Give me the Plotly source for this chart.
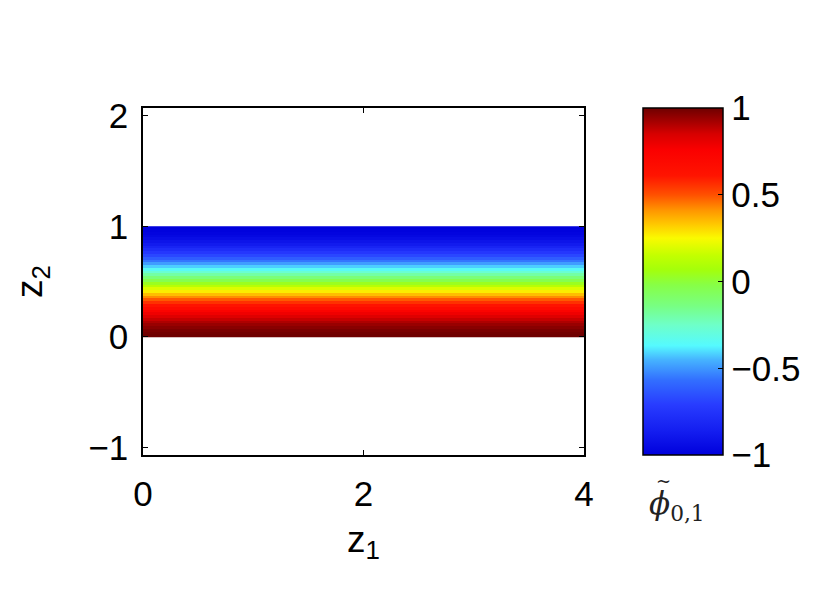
import plotly.graph_objects as go

# z1 extent (edges) and z2 band centres
z1_edges = [0, 4]
z2_centres = [0.0125, 0.0375, 0.0625, 0.0875, 0.1125, 0.1375, 0.1625, 0.1875, 0.2125, 0.2375,
              0.2625, 0.2875, 0.3125, 0.3375, 0.3625, 0.3875, 0.4125, 0.4375, 0.4625, 0.4875,
              0.5125, 0.5375, 0.5625, 0.5875, 0.6125, 0.6375, 0.6625, 0.6875, 0.7125, 0.7375,
              0.7625, 0.7875, 0.8125, 0.8375, 0.8625, 0.8875, 0.9125, 0.9375, 0.9625, 0.9875]
phi_values = [0.999, 0.993, 0.981, 0.962, 0.938, 0.908, 0.873, 0.831, 0.785, 0.734,
              0.679, 0.619, 0.556, 0.489, 0.419, 0.346, 0.271, 0.195, 0.118, 0.039,
              -0.039, -0.118, -0.195, -0.271, -0.346, -0.419, -0.489, -0.556, -0.619, -0.679,
              -0.734, -0.785, -0.831, -0.873, -0.908, -0.938, -0.962, -0.981, -0.993, -0.999]
x_ticks = [0, 2, 4]
y_ticks = [-1, 0, 1, 2]
y_ticktext = ["\u22121", "0", "1", "2"]
cb_ticks = [-1, -0.5, 0, 0.5, 1]
cb_ticktext = ["\u22121", "\u22120.5", "0", "0.5", "1"]

colorscale = [
    [0.0, 'rgb(0,0,220)'],
    [0.07, 'rgb(20,30,240)'],
    [0.145, 'rgb(40,60,255)'],
    [0.215, 'rgb(50,110,255)'],
    [0.275, 'rgb(70,180,255)'],
    [0.315, 'rgb(85,250,255)'],
    [0.375, 'rgb(110,255,200)'],
    [0.43, 'rgb(120,255,130)'],
    [0.49, 'rgb(135,255,70)'],
    [0.535, 'rgb(165,255,10)'],
    [0.575, 'rgb(195,255,0)'],
    [0.625, 'rgb(250,250,0)'],
    [0.665, 'rgb(255,200,0)'],
    [0.705, 'rgb(255,150,0)'],
    [0.75, 'rgb(255,80,0)'],
    [0.805, 'rgb(255,20,0)'],
    [0.88, 'rgb(250,0,0)'],
    [0.925, 'rgb(215,0,0)'],
    [1.0, 'rgb(110,0,0)'],
]

FONT = "Liberation Sans, Arial, Helvetica, sans-serif"
SERIF = "DejaVu Serif, serif"
TICK_SIZE = 35
TITLE_SIZE = 37

# plot area: 441 x 347 px
PW, PH = 441, 347
L, T = 135, 100

fig = go.Figure()
fig.add_trace(go.Heatmap(
    x=z1_edges,
    y=z2_centres,
    z=[[v] for v in phi_values],
    zmin=-1, zmax=1,
    colorscale=colorscale,
    colorbar=dict(
        x=500 / PW, xanchor='left', xpad=0,
        y=1, yanchor='top', ypad=0,
        len=PH, lenmode='pixels',
        thickness=80, thicknessmode='pixels',
        outlinewidth=1.5, outlinecolor='black',
        tickvals=cb_ticks, ticktext=cb_ticktext,
        ticks='inside', ticklen=5, tickcolor='black', tickwidth=1.2,
        tickfont=dict(family=FONT, size=TICK_SIZE, color='black'),
        ticklabelposition='outside',
    ),
    hoverinfo='skip',
))

fig.update_layout(
    width=830, height=590,
    margin=dict(l=L, r=830 - L - PW, t=T, b=590 - T - PH),
    paper_bgcolor='white', plot_bgcolor='white',
    font=dict(family=FONT, size=TICK_SIZE, color='black'),
    xaxis=dict(
        range=[0, 4], tickvals=x_ticks, ticks='inside', ticklen=5,
        tickcolor='black', tickwidth=1.2,
        showline=True, linecolor='black', linewidth=1.5, mirror='ticks',
        showgrid=False, zeroline=False,
        tickfont=dict(family=FONT, size=TICK_SIZE),
        ticklabelstandoff=7,
        title=dict(text='z<sub>1</sub>', font=dict(family=FONT, size=TITLE_SIZE), standoff=14),
    ),
    yaxis=dict(
        range=[-1.07, 2.07], tickvals=y_ticks, ticktext=y_ticktext,
        ticks='inside', ticklen=5,
        tickcolor='black', tickwidth=1.2,
        showline=True, linecolor='black', linewidth=1.5, mirror='ticks',
        showgrid=False, zeroline=False,
        tickfont=dict(family=FONT, size=TICK_SIZE),
        ticklabelstandoff=6,
        title=dict(text='z<sub>2</sub>', font=dict(family=FONT, size=TITLE_SIZE), standoff=34),
    ),
    annotations=[
        dict(
            text='<i>\u03d5</i><sub>0,1</sub>',
            xref='paper', yref='paper',
            x=(677 - 143) / PW, y=-(506 - 455) / PH,
            xanchor='center', yanchor='middle',
            showarrow=False,
            font=dict(family=SERIF, size=31, color='#222'),
        ),
        dict(
            text='~',
            xref='paper', yref='paper',
            x=(663 - 143) / PW, y=-(480 - 455) / PH,
            xanchor='center', yanchor='middle',
            showarrow=False,
            font=dict(family=SERIF, size=18, color='#222'),
        ),
    ],
)

fig.write_html("out.html")
